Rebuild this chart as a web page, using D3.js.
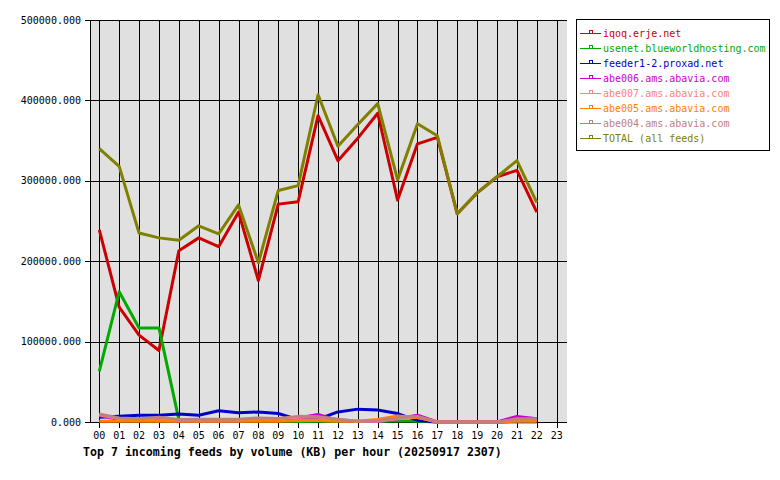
<!DOCTYPE html>
<html>
<head>
<meta charset="utf-8">
<script src="https://cdn.jsdelivr.net/npm/d3@7"></script>
<style>
body { margin: 0; background: #fff; }
text { font-family: "DejaVu Sans Mono", monospace; }
</style>
</head>
<body>
<script>
// hours shown on the x axis
var hours = ["00","01","02","03","04","05","06","07","08","09","10","11",
             "12","13","14","15","16","17","18","19","20","21","22","23"];

// volume in KB per hour (hours 00..22)
var iqoq    = [239000,143000,108000,89000,213000,229000,218000,261000,176000,271000,274000,381000,
               325000,353000,384000,276000,346000,354000,259000,285000,305000,313000,261000];
var usenet  = [63000,162000,117000,117000,3000,1000,1000,2500,1500,1500,500,1000,
               1000,500,500,1500,1000,0,0,0,0,0,0];
var feeder  = [6000,7000,8500,8500,10000,8500,14000,11500,12500,10500,3000,3500,
               12500,16000,15000,10500,2000,0,0,0,0,1000,1000];
var abe006  = [8000,3000,2000,2000,1000,1000,1000,1000,2000,1500,5000,9500,
               2000,500,500,4000,8500,0,0,0,0,7000,4000];
var abe007  = [9000,4000,3000,5000,2000,3000,3000,3000,4000,4000,6000,6000,
               3000,1000,1000,4000,6000,0,0,0,0,3000,3000];
var abe005  = [1000,1000,1000,1000,1000,1000,1000,1000,1000,1000,2000,2000,
               1000,1000,3000,7500,6000,0,0,0,0,1000,1000];
var abe004  = [10000,5000,4000,6000,3000,3500,3500,3500,5000,4500,7000,6500,
               3500,1000,1500,5000,7000,0,0,0,0,4000,4000];
var total   = [340000,318000,235000,229000,226000,244000,234000,270000,198000,288000,294000,407000,
               343000,370000,396000,301000,371000,356000,259000,285000,305000,325000,273000];

var feedNames  = ["iqoq.erje.net","usenet.blueworldhosting.com","feeder1-2.proxad.net",
                  "abe006.ams.abavia.com","abe007.ams.abavia.com","abe005.ams.abavia.com",
                  "abe004.ams.abavia.com","TOTAL (all feeds)"];
var feedValues = [iqoq, usenet, feeder, abe006, abe007, abe005, abe004, total];
var feedColors = ["#cc0000","#00aa00","#0000cc","#cc00cc","#ff8080","#ff8000","#c08080","#808000"];

var yTicks = [0,100000,200000,300000,400000,500000];

var width = 780, height = 480;
var plotLeft = 90, plotRight = 567, plotTop = 20, plotBottom = 422;

var svg = d3.select("body").append("svg")
    .attr("width", width)
    .attr("height", height);

var x = d3.scalePoint()
    .domain(hours)
    .range([99.3, 556.7]);

var y = d3.scaleLinear()
    .domain([0, 500000])
    .range([plotBottom, plotTop]);

// plot background
svg.append("rect")
    .attr("x", plotLeft).attr("y", plotTop)
    .attr("width", plotRight - plotLeft).attr("height", plotBottom - plotTop)
    .attr("fill", "#e0e0e0");

// horizontal grid + y ticks
svg.append("g").selectAll("line")
    .data(yTicks)
    .enter().append("line")
    .attr("x1", plotLeft - 5).attr("x2", plotRight)
    .attr("y1", function (d) { return Math.round(y(d)) + 0.5; })
    .attr("y2", function (d) { return Math.round(y(d)) + 0.5; })
    .attr("stroke", "#000")
    .attr("shape-rendering", "crispEdges");

svg.append("g").selectAll("text")
    .data(yTicks)
    .enter().append("text")
    .attr("x", 81)
    .attr("y", function (d) { return y(d) + 3.5; })
    .attr("text-anchor", "end")
    .style("font-size", "10px")
    .text(d3.format(".3f"));

// vertical grid + x ticks
svg.append("g").selectAll("line")
    .data(hours)
    .enter().append("line")
    .attr("x1", function (d) { return Math.round(x(d)) + 0.5; })
    .attr("x2", function (d) { return Math.round(x(d)) + 0.5; })
    .attr("y1", plotTop).attr("y2", plotBottom + 6)
    .attr("stroke", "#000")
    .attr("shape-rendering", "crispEdges");

svg.append("g").selectAll("text")
    .data(hours)
    .enter().append("text")
    .attr("x", function (d) { return x(d); })
    .attr("y", 439)
    .attr("text-anchor", "middle")
    .style("font-size", "10px")
    .text(function (d) { return d; });

// axis lines
svg.append("line")
    .attr("x1", plotLeft + 0.5).attr("x2", plotLeft + 0.5)
    .attr("y1", plotTop).attr("y2", plotBottom + 0.5)
    .attr("stroke", "#000").attr("shape-rendering", "crispEdges");
svg.append("line")
    .attr("x1", plotLeft).attr("x2", plotRight)
    .attr("y1", plotBottom + 0.5).attr("y2", plotBottom + 0.5)
    .attr("stroke", "#000").attr("shape-rendering", "crispEdges");

// series lines
var line = d3.line()
    .x(function (d, i) { return x(hours[i]); })
    .y(function (d) { return y(d); });

svg.append("g").selectAll("path")
    .data(feedValues)
    .enter().append("path")
    .attr("d", line)
    .attr("fill", "none")
    .attr("stroke", function (d, i) { return feedColors[i]; })
    .attr("stroke-width", 3)
    .attr("stroke-linejoin", "round");

// title under the chart
svg.append("text")
    .attr("x", 83)
    .attr("y", 456)
    .style("font-size", "11.6px")
    .style("font-weight", "bold")
    .text("Top 7 incoming feeds by volume (KB) per hour (20250917 2307)");

// legend
var legend = svg.append("g");
legend.append("rect")
    .attr("x", 576.5).attr("y", 19.5)
    .attr("width", 193).attr("height", 131)
    .attr("fill", "#fff").attr("stroke", "#000");

var item = legend.selectAll("g.item")
    .data(feedNames)
    .enter().append("g")
    .attr("class", "item")
    .attr("transform", function (d, i) { return "translate(0," + (33 + i * 15) + ")"; });

item.append("line")
    .attr("x1", 580).attr("x2", 601)
    .attr("y1", 0.5).attr("y2", 0.5)
    .attr("stroke", function (d, i) { return feedColors[i]; })
    .attr("shape-rendering", "crispEdges");
item.append("rect")
    .attr("x", 589.5).attr("y", -2.5)
    .attr("width", 3).attr("height", 3)
    .attr("fill", "none")
    .attr("stroke", function (d, i) { return feedColors[i]; })
    .attr("shape-rendering", "crispEdges");
item.append("text")
    .attr("x", 603)
    .attr("y", 4)
    .style("font-size", "10px")
    .attr("fill", function (d, i) { return feedColors[i]; })
    .text(function (d) { return d; });
</script>
</body>
</html>
